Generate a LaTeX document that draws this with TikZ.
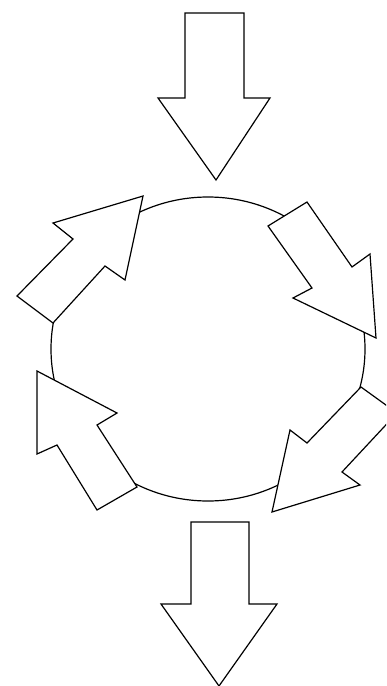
\documentclass[tikz,border=0pt]{standalone}
\begin{document}
\begin{tikzpicture}[x=1pt,y=-1pt,
  outline/.style={draw=black,line width=1.2pt,line join=miter},
  arrowshape/.style={outline,fill=white}]
\useasboundingbox (0,0) rectangle (386,686);
\clip (0,0) rectangle (386,686);
% ring
\draw[outline] (208,349) ellipse [x radius=157, y radius=152];
% top arrow (in)
\draw[arrowshape] (185,13) -- (244,13) -- (244,98) -- (270,98) -- (216,180)
  -- (158,98) -- (185,98) -- cycle;
% bottom arrow (out)
\draw[arrowshape] (191,522) -- (249,522) -- (249,604) -- (277,604) -- (219,686)
  -- (161,604) -- (191,604) -- cycle;
% upper-left arrow
\draw[arrowshape] (143,196) -- (125,280) -- (105,266) -- (53,323) -- (17,296)
  -- (73,239) -- (53,223) -- cycle;
% upper-right arrow
\draw[arrowshape] (268,226) -- (307,202) -- (352,267) -- (370,254) -- (376,338)
  -- (293,298) -- (312,288) -- cycle;
% lower-right arrow
\draw[arrowshape] (361,387) -- (397,413) -- (342,472) -- (360,485) -- (272,512)
  -- (290,430) -- (307,443) -- cycle;
% lower-left arrow
\draw[arrowshape] (37,371) -- (117,413) -- (97,425) -- (137,487) -- (97,510)
  -- (57,445) -- (37,454) -- cycle;
\end{tikzpicture}
\end{document}
